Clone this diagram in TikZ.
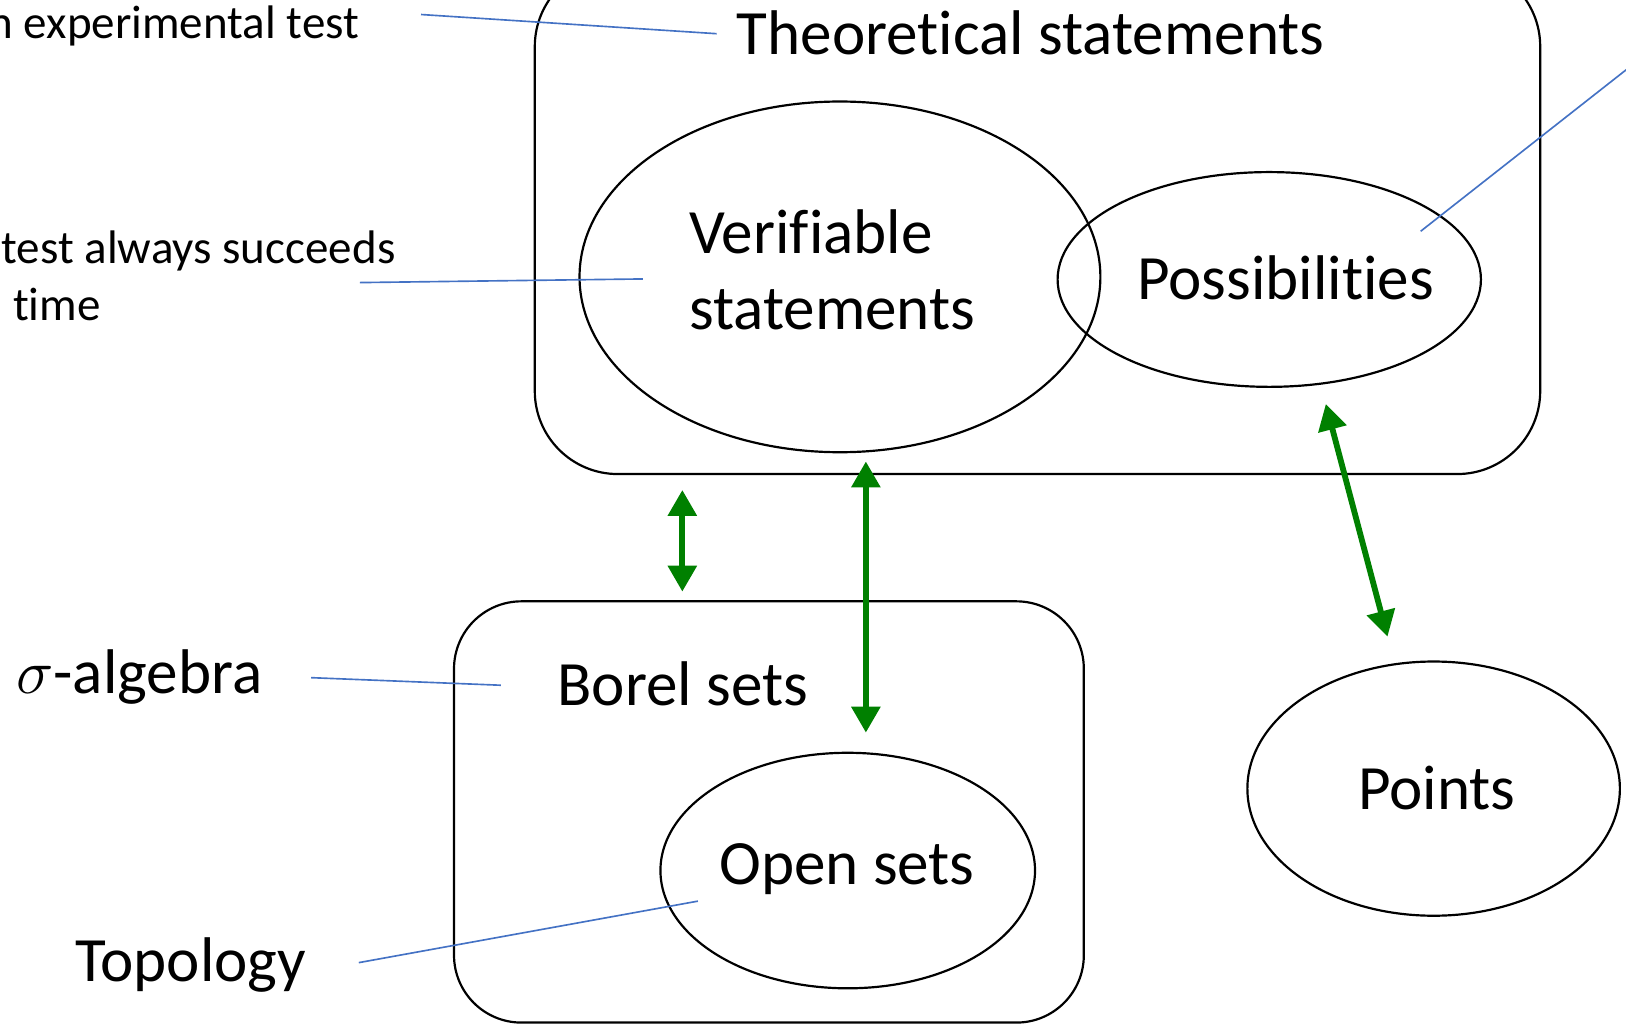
\documentclass[tikz,border=0pt]{standalone}
\usepackage{fontspec}
\setmainfont{Carlito}[Ligatures=CommonOff]
\usetikzlibrary{shapes.geometric,arrows.meta}
\definecolor{linkblue}{HTML}{4472C4}
\definecolor{arrowgreen}{HTML}{008000}
\newcommand{\nolig}{\kern0pt }
\begin{document}
\begin{tikzpicture}[x=0.01cm,y=-0.01cm,
  big/.style={font=\fontsize{17.3pt}{20.8pt}\selectfont, inner sep=0pt},
  small/.style={font=\fontsize{12.9pt}{15pt}\selectfont, inner sep=0pt},
  outline/.style={draw=black, line width=0.6pt, inner sep=0pt},
  oval/.style={outline, ellipse},
  note/.style={draw=linkblue, line width=0.45pt},
  dual/.style={draw=arrowgreen, line width=1.6pt,
    {Triangle[length=0.25cm,width=0.27cm]}-{Triangle[length=0.25cm,width=0.27cm]}}]
\useasboundingbox (0,0) rectangle (1568,987.4);
\clip (0,0) rectangle (1568,987.4);

% containers
\node[outline, rounded corners=0.8cm, minimum width=9.69cm, minimum height=4.92cm] (theo) at (1000.5,211) {};
\node[outline, rounded corners=0.65cm, minimum width=6.07cm, minimum height=4.06cm] (borel) at (741.5,783) {};

% ellipses
\node[oval, minimum width=5.02cm, minimum height=3.38cm] (verif) at (810,267) {};
\node[oval, minimum width=4.08cm, minimum height=2.07cm] (poss) at (1224,269.5) {};
\node[oval, minimum width=3.61cm, minimum height=2.27cm] (open) at (817.5,839.5) {};
\node[oval, minimum width=3.59cm, minimum height=2.45cm] (points) at (1382.5,760.5) {};

% texts
\node[big, anchor=base west] (theotxt) at (710,53) {Theoret\nolig ical statements};
\node[big, anchor=base west, align=left] (veriftxt) at (664,318) {Verif\nolig iable\\statements};
\node[big, anchor=base west] (posstxt) at (1096,289) {Possibilit\nolig ies};
\node[big, anchor=base west] (boreltxt) at (537,680.5) {Borel sets};
\node[big, anchor=base west] (opentxt) at (693,853) {Open sets};
\node[big, anchor=base west] (pointstxt) at (1309,781) {Points};
\node[big, anchor=base west] (sigmatxt) at (15,669) {$\sigma$-algebra};
\node[big, anchor=base west] (topotxt) at (72,946.6) {Topology};
\node[small, anchor=base east] (exptxt) at (347,37) {an experimental test};
\node[small, anchor=base east] (succtxt) at (382,254) {test always succeeds};
\node[small, anchor=base west] (timetxt) at (12,309) {time};

% blue annotation lines
\coordinate (n1a) at (406,14);    \coordinate (n1b) at (691,32.5);
\coordinate (n2a) at (347,272.5); \coordinate (n2b) at (620,269);
\coordinate (n3a) at (300,653.5); \coordinate (n3b) at (483,660.8);
\coordinate (n4a) at (346,928.3); \coordinate (n4b) at (673,869);
\coordinate (n5a) at (1370,223);  \coordinate (n5b) at (1650,3);
\draw[note] (n1a) -- (n1b);
\draw[note] (n2a) -- (n2b);
\draw[note] (n3a) -- (n3b);
\draw[note] (n4a) -- (n4b);
\draw[note] (n5a) -- (n5b);

% green double arrows
\coordinate (g1a) at (658,472.5);   \coordinate (g1b) at (658,570.5);
\coordinate (g2a) at (835,445);     \coordinate (g2b) at (835,706.5);
\coordinate (g3a) at (1278.5,389.6);\coordinate (g3b) at (1338,614);
\draw[dual] (g1a) -- (g1b);
\draw[dual] (g2a) -- (g2b);
\draw[dual] (g3a) -- (g3b);
\end{tikzpicture}
\end{document}
